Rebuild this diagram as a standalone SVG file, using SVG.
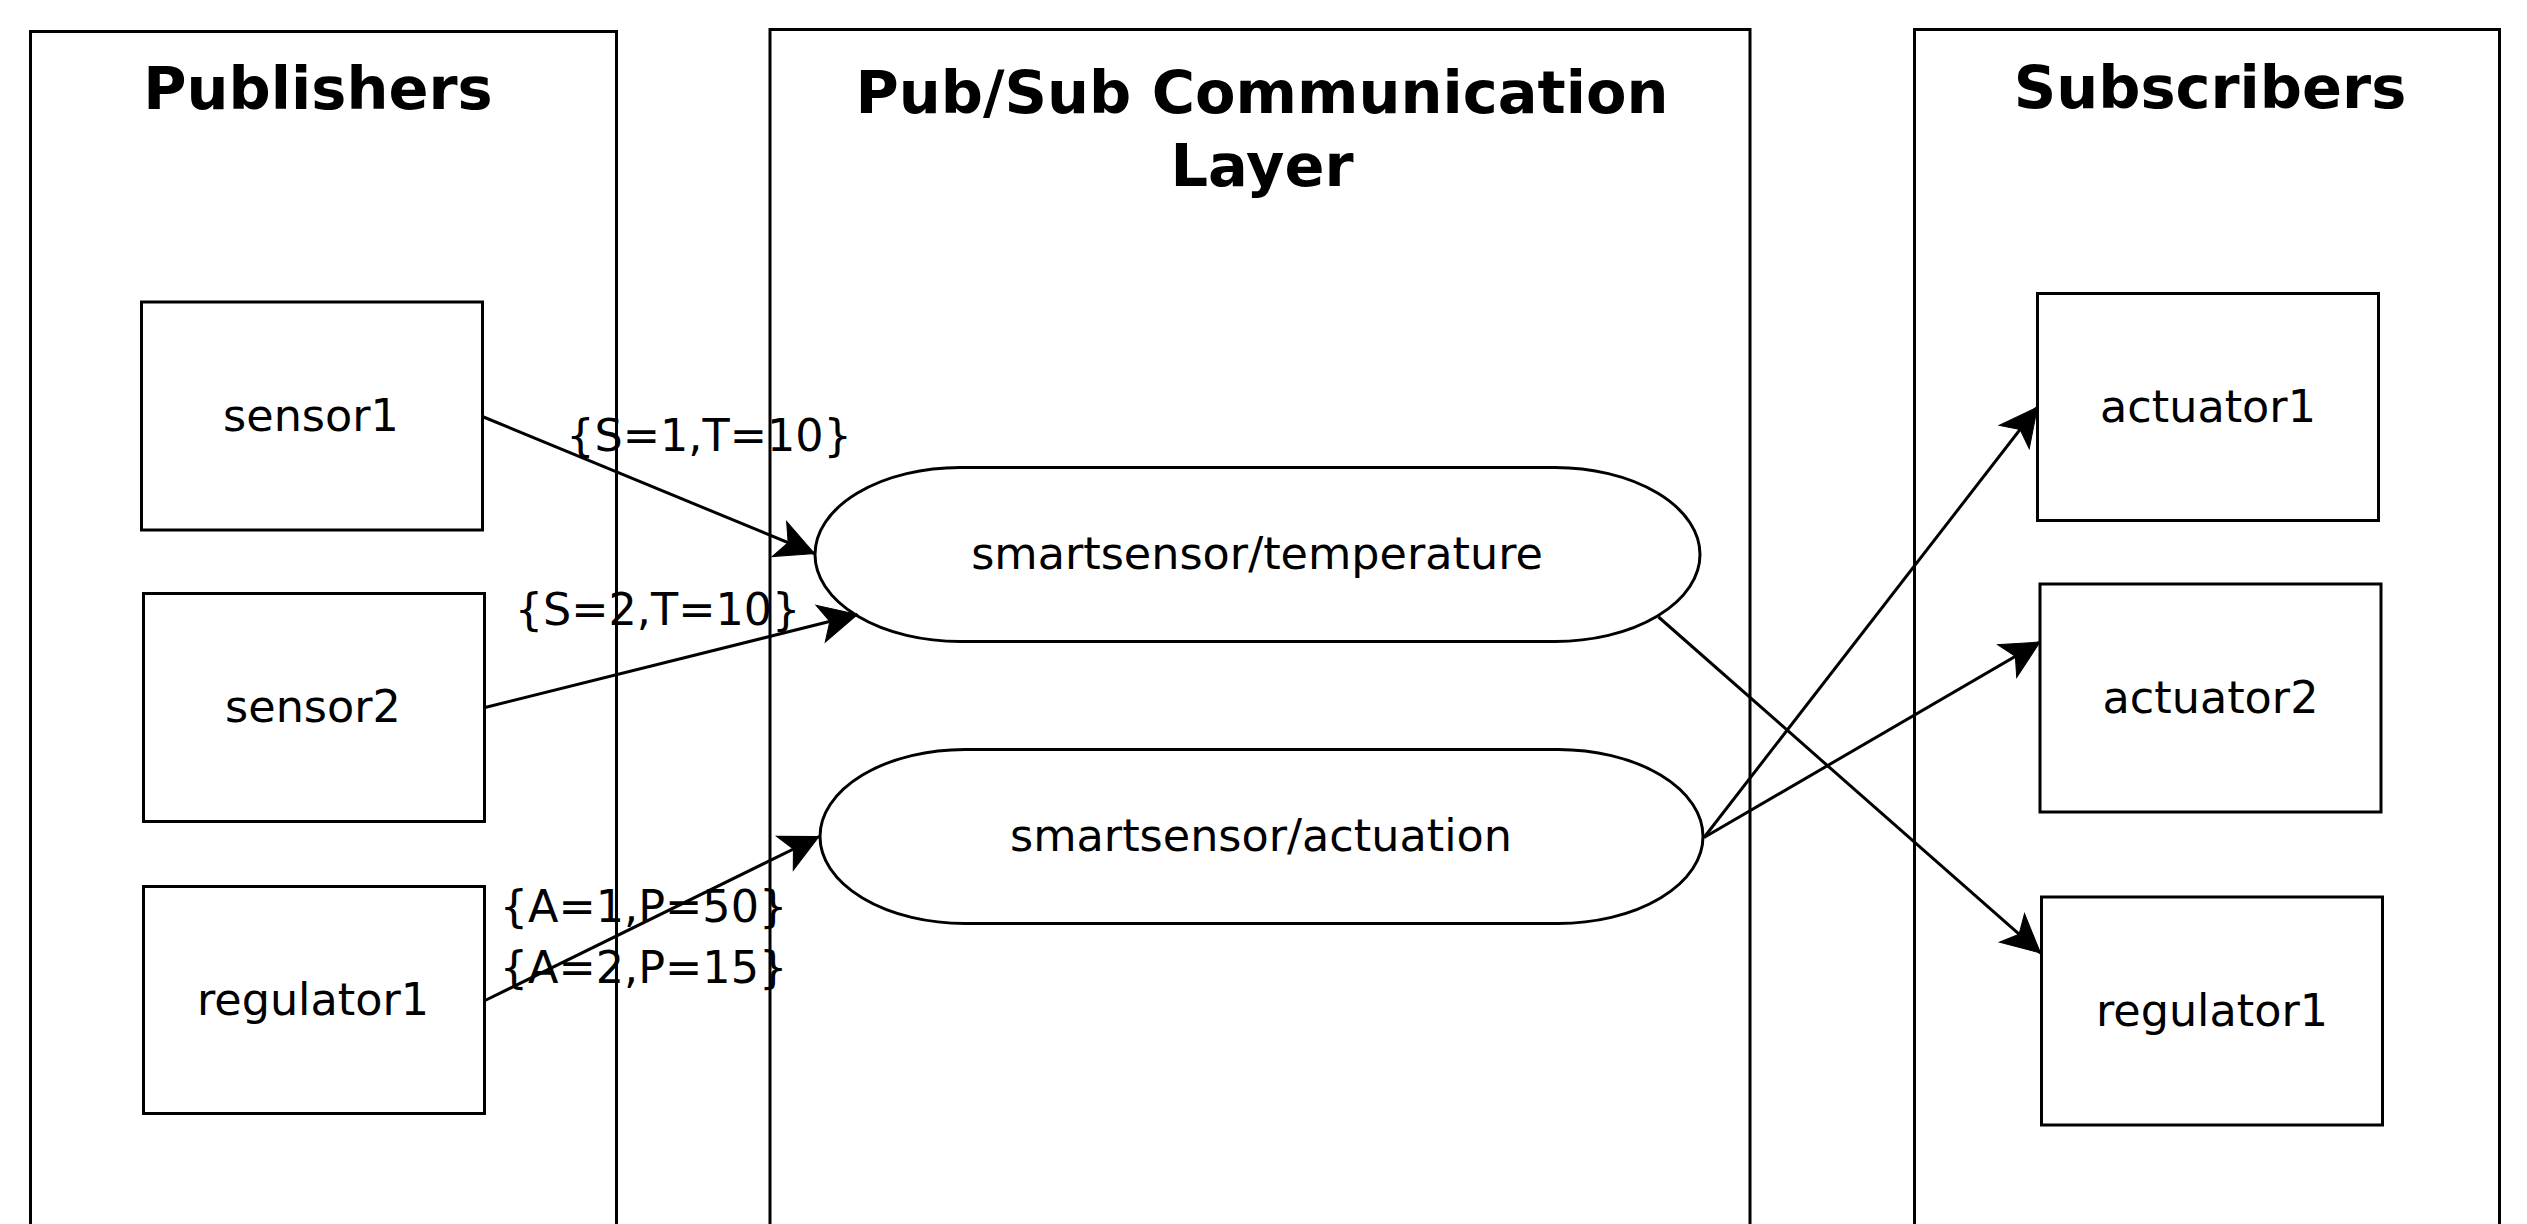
<svg xmlns="http://www.w3.org/2000/svg" width="2527" height="1224" viewBox="0 0 2527 1224">
<style>
.box{fill:#fff;stroke:#000;stroke-width:3}
.title{font-family:"DejaVu Sans","Liberation Sans",sans-serif;font-size:59px;font-weight:bold;text-anchor:middle;fill:#000}
.lbl{font-family:"DejaVu Sans","Liberation Sans",sans-serif;font-size:44.5px;text-anchor:middle;fill:#000}
.edge{fill:none;stroke:#000;stroke-width:3;marker-end:url(#arr)}
</style>
<defs>
<marker id="arr" markerUnits="userSpaceOnUse" markerWidth="80" markerHeight="80" refX="0" refY="0" orient="auto" overflow="visible">
<path d="M0,0 L-38,-19 L-28.5,0 L-38,19 Z" fill="#000" stroke="#000" stroke-width="1"/>
</marker>
</defs>
<rect width="2527" height="1224" fill="#fff"/>
<g id="publishers">
<rect class="box" x="30.5" y="31.5" width="586" height="1250"/>
<text class="title" x="318" y="109">Publishers</text>
</g>
<g id="pubsub-layer">
<rect class="box" x="770" y="29.5" width="980" height="1250"/>
<text class="title" x="1262" y="113">Pub/Sub Communication</text>
<text class="title" x="1262" y="186">Layer</text>
</g>
<g id="subscribers">
<rect class="box" x="1914.5" y="29.5" width="585" height="1250"/>
<text class="title" x="2210" y="108">Subscribers</text>
</g>
<g id="sensor1">
<rect class="box" x="141.5" y="302" width="341" height="228"/>
<text class="lbl" x="311" y="431">sensor1</text>
</g>
<g id="sensor2">
<rect class="box" x="143.5" y="593.5" width="341" height="228"/>
<text class="lbl" x="313" y="722">sensor2</text>
</g>
<g id="regulator1-pub">
<rect class="box" x="143.5" y="886.5" width="341" height="227"/>
<text class="lbl" x="313" y="1015">regulator1</text>
</g>
<g id="topic-temperature">
<rect class="box" x="815" y="467.5" width="885" height="174" rx="145" ry="87"/>
<text class="lbl" x="1257" y="569">smartsensor/temperature</text>
</g>
<g id="topic-actuation">
<rect class="box" x="820" y="749.5" width="883" height="174" rx="145" ry="87"/>
<text class="lbl" x="1261" y="851">smartsensor/actuation</text>
</g>
<g id="actuator1">
<rect class="box" x="2037.5" y="293.5" width="341" height="227"/>
<text class="lbl" x="2208" y="422">actuator1</text>
</g>
<g id="actuator2">
<rect class="box" x="2040" y="584" width="341" height="228"/>
<text class="lbl" x="2210.5" y="713">actuator2</text>
</g>
<g id="regulator1-sub">
<rect class="box" x="2041.5" y="897" width="341" height="228"/>
<text class="lbl" x="2212" y="1026">regulator1</text>
</g>
<g id="connectors">
<path class="edge" d="M483.5,417 L814.5,553.5"/>
<path class="edge" d="M485,707.5 L857.5,614.5"/>
<path class="edge" d="M485,1000.5 L819,836.5"/>
<path class="edge" d="M1658.5,617 L2040.5,953"/>
<path class="edge" d="M1704,837.5 L2037.5,407"/>
<path class="edge" d="M1704,837.5 L2040,642"/>
<text class="lbl" x="709" y="451">{S=1,T=10}</text>
<text class="lbl" x="657.5" y="625">{S=2,T=10}</text>
<text class="lbl" x="643.5" y="921.5">{A=1,P=50}</text>
<text class="lbl" x="643.5" y="982.5">{A=2,P=15}</text>
</g>
</svg>
